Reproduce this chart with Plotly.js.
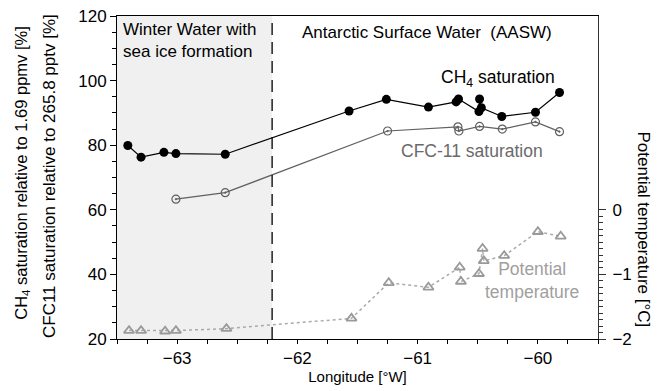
<!DOCTYPE html>
<html>
<head>
<meta charset="utf-8">
<script src="https://cdn.plot.ly/plotly-3.0.1.min.js"></script>
<style>html,body{margin:0;padding:0;background:#fff;}#chart{width:663px;height:391px;}</style>
</head>
<body>
<div id="chart"></div>
<script>
// CH4 saturation (%)
const ch4Lon = [-63.41, -63.30, -63.11, -63.01, -62.60, -61.57, -61.26, -60.91, -60.68, -60.66, -60.49, -60.485, -60.47, -60.30, -60.02, -59.82];
const ch4Sat = [79.9, 76.3, 77.8, 77.4, 77.2, 90.6, 94.2, 91.8, 93.4, 94.3, 90.4, 94.3, 91.6, 88.9, 90.2, 96.3];
// CFC-11 saturation (%)
const cfcLon = [-63.01, -62.60, -61.25, -60.665, -60.657, -60.485, -60.296, -60.02, -59.82];
const cfcSat = [63.3, 65.3, 84.4, 85.7, 84.4, 85.8, 85.0, 87.2, 84.2];
// Potential temperature (°C)
const thetaLon = [-63.40, -63.30, -63.10, -63.01, -62.59, -61.55, -61.24, -60.91, -60.65, -60.64, -60.49, -60.46, -60.45, -60.28, -60.00, -59.81];
const theta = [-1.87, -1.87, -1.88, -1.87, -1.84, -1.68, -1.13, -1.20, -0.89, -1.11, -0.99, -0.60, -0.79, -0.71, -0.34, -0.41];
// Winter water boundary (longitude)
const winterWaterEdge = -62.21;
// Tick arrays
const thetaTickVals = [-2, -1, 0];
const thetaMinorVals = [-1.9, -1.8, -1.7, -1.6, -1.5, -1.4, -1.3, -1.2, -1.1, -0.9, -0.8, -0.7, -0.6, -0.5, -0.4, -0.3, -0.2, -0.1];

const FONT = 'Liberation Sans, Arial, sans-serif';

const traces = [
  {
    x: thetaLon, y: theta, yaxis: 'y2', type: 'scatter', mode: 'lines+markers',
    line: {color: '#aaaaaa', width: 1.5, dash: 'dot'},
    marker: {symbol: 'triangle-up-open', size: 9, color: '#9a9a9a', line: {width: 1.8, color: '#9a9a9a'}},
    showlegend: false, cliponaxis: false
  },
  {
    x: cfcLon, y: cfcSat, type: 'scatter', mode: 'lines+markers',
    line: {color: '#606060', width: 1.2},
    marker: {symbol: 'circle-open-dot', size: 8, color: '#606060', line: {width: 1.2, color: '#606060'}},
    showlegend: false, cliponaxis: false
  },
  {
    x: ch4Lon, y: ch4Sat, type: 'scatter', mode: 'lines+markers',
    line: {color: '#000000', width: 1.2},
    marker: {symbol: 'circle', size: 9, color: '#000000'},
    showlegend: false, cliponaxis: false
  }
];

const layout = {
  width: 663, height: 391,
  margin: {l: 117, r: 65, t: 16, b: 52},
  paper_bgcolor: '#ffffff', plot_bgcolor: '#ffffff',
  font: {family: FONT, size: 17, color: '#000'},
  showlegend: false,
  xaxis: {
    range: [-63.5, -59.5], tickmode: 'linear', tick0: -63, dtick: 1,
    ticks: 'outside', ticklen: 4, tickwidth: 1, tickcolor: '#000',
    minor: {dtick: 0.25, tick0: -63, ticks: 'outside', ticklen: 4, tickwidth: 1, tickcolor: '#000'},
    showline: true, linecolor: '#000', linewidth: 1, mirror: true,
    showgrid: false, zeroline: false,
    tickfont: {family: FONT, size: 17},
    title: {text: 'Longitude [°W]', font: {family: FONT, size: 15}, standoff: 4}
  },
  yaxis: {
    range: [20, 120], tickmode: 'linear', tick0: 20, dtick: 20,
    ticks: 'outside', ticklen: 6, tickwidth: 1, tickcolor: '#000',
    minor: {dtick: 5, tick0: 20, ticks: 'outside', ticklen: 4, tickwidth: 1, tickcolor: '#000'},
    showline: true, linecolor: '#000', linewidth: 1,
    showgrid: false, zeroline: false,
    tickfont: {family: FONT, size: 17}
  },
  yaxis2: {
    overlaying: 'y', side: 'right', range: [-2, 3],
    tickmode: 'array', tickvals: thetaTickVals,
    ticks: 'outside', ticklen: 7, tickwidth: 1, tickcolor: '#333',
    minor: {tickmode: 'array', tickvals: thetaMinorVals, ticks: 'outside', ticklen: 4, tickwidth: 1, tickcolor: '#333'},
    showline: true, linecolor: '#333', linewidth: 1,
    showgrid: false, zeroline: false,
    ticklabelstandoff: 3,
    tickfont: {family: FONT, size: 17}
  },
  shapes: [
    {type: 'rect', xref: 'x', yref: 'paper', x0: -63.5, x1: winterWaterEdge, y0: 0, y1: 1,
     fillcolor: '#f0f0f0', line: {width: 0}, layer: 'below'},
    {type: 'line', xref: 'x', yref: 'paper', x0: winterWaterEdge, x1: winterWaterEdge, y0: 0, y1: 1,
     line: {color: '#000', width: 1.3, dash: '12px,7px'}}
  ],
  annotations: [
    {xref: 'paper', yref: 'paper', x: 0.009, y: 0.995, xanchor: 'left', yanchor: 'top', align: 'left',
     text: 'Winter Water with<br>sea ice formation', showarrow: false, font: {family: FONT, size: 17, color: '#000'}},
    {xref: 'paper', yref: 'paper', x: 0.38, y: 0.95, xanchor: 'left', yanchor: 'middle',
     text: 'Antarctic Surface Water  (AASW)', showarrow: false, font: {family: FONT, size: 17, color: '#000'}},
    {xref: 'paper', yref: 'paper', x: 0.915, y: 0.808, xanchor: 'right', yanchor: 'middle',
     text: 'CH<sub>4</sub> saturation', showarrow: false, font: {family: FONT, size: 17.5, color: '#000'}},
    {xref: 'paper', yref: 'paper', x: 0.89, y: 0.582, xanchor: 'right', yanchor: 'middle',
     text: 'CFC-11 saturation', showarrow: false, font: {family: FONT, size: 17.5, color: '#6a6a6a'}},
    {xref: 'paper', yref: 'paper', x: 0.863, y: 0.18, xanchor: 'center', yanchor: 'middle', align: 'center',
     text: 'Potential<br>temperature', showarrow: false, font: {family: FONT, size: 17.5, color: '#a0a0a0'}},
    {xref: 'paper', yref: 'paper', x: -0.198, y: 0.514, xanchor: 'center', yanchor: 'middle', textangle: -90,
     text: 'CH<sub>4</sub> saturation relative to 1.69 ppmv [%]', showarrow: false, font: {family: FONT, size: 16.5, color: '#000'}},
    {xref: 'paper', yref: 'paper', x: -0.139, y: 0.505, xanchor: 'center', yanchor: 'middle', textangle: -90,
     text: 'CFC11 saturation relative to 265.8 pptv [%]', showarrow: false, font: {family: FONT, size: 17, color: '#000'}},
    {xref: 'paper', yref: 'paper', x: 1.095, y: 0.34, xanchor: 'center', yanchor: 'middle', textangle: 90,
     text: 'Potential temperature [°C]', showarrow: false, font: {family: FONT, size: 17, color: '#000'}}
  ]
};

Plotly.newPlot('chart', traces, layout, {displayModeBar: false, staticPlot: true});
</script>
</body>
</html>
